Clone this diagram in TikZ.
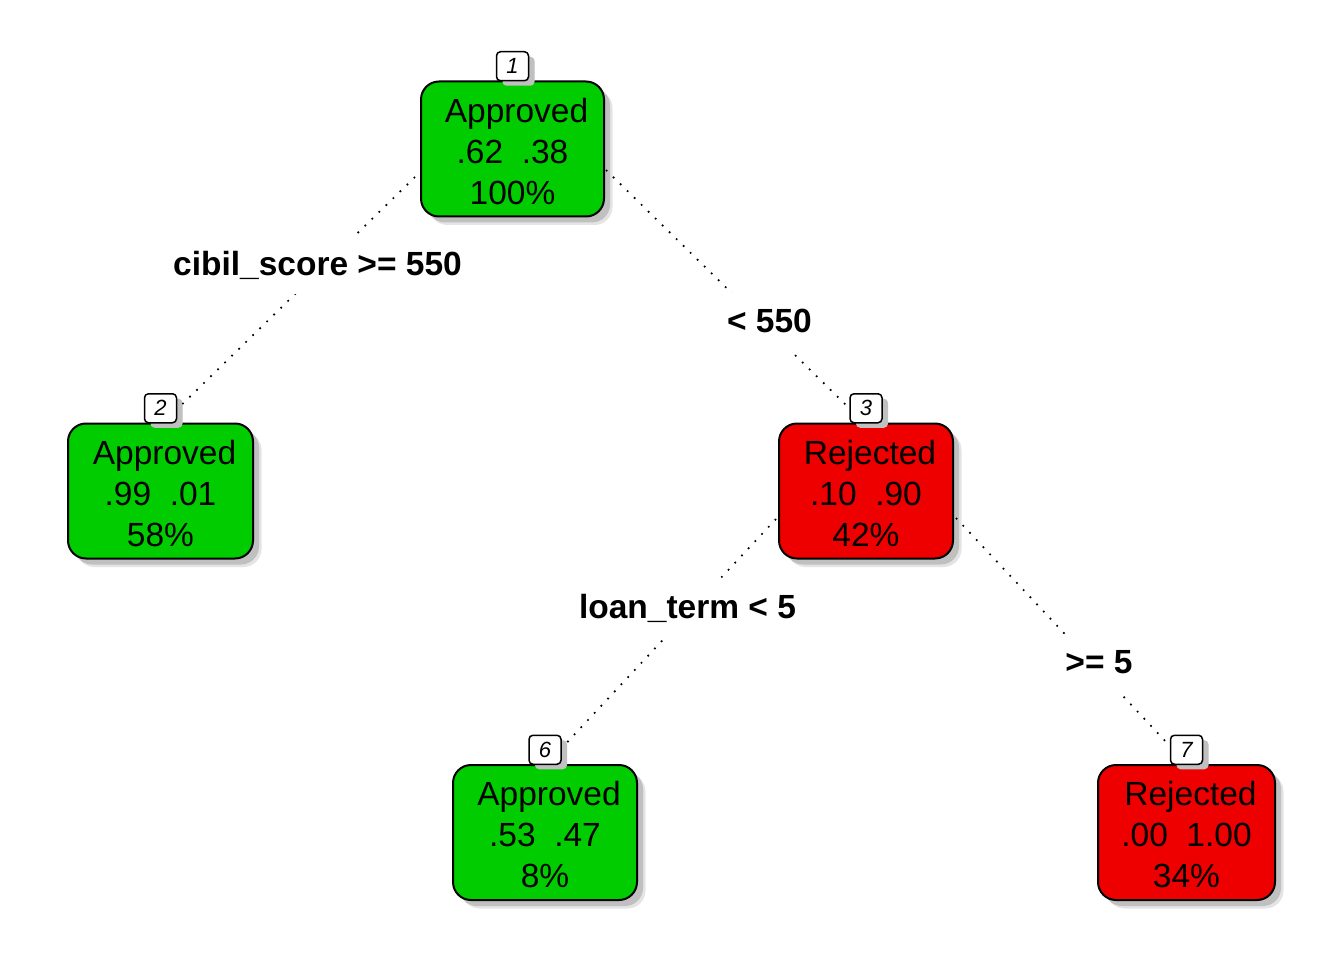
\documentclass[tikz,border=0pt]{standalone}
\usepackage{fontspec}
\setmainfont{Liberation Sans}
\usetikzlibrary{calc,shadows}
\definecolor{boxgreen}{RGB}{0,204,0}
\definecolor{boxred}{RGB}{238,0,0}
\definecolor{shadowgray}{RGB}{192,192,192}
\definecolor{shadowlight}{RGB}{228,228,228}
\newcommand{\firstline}[1]{\rule{0pt}{28.5pt}\hspace*{8pt}#1}
\begin{document}
\begin{tikzpicture}[x=1pt,y=-1pt,
  tbox/.style={draw=black, line width=2pt, rounded corners=18pt, minimum height=135pt,
    align=center, inner sep=0pt, font=\fontsize{33.5}{41}\selectfont,
    drop shadow={shadow xshift=8.5pt, shadow yshift=-8.5pt, fill=shadowlight, opacity=1},
    drop shadow={shadow xshift=6pt, shadow yshift=-6pt, fill=shadowgray, opacity=1}},
  nbox/.style={draw=black, line width=1.5pt, fill=white, rounded corners=4pt,
    minimum width=32pt, minimum height=29pt, inner sep=0pt, anchor=south,
    font=\fontsize{22}{22}\selectfont\itshape,
    drop shadow={shadow xshift=6pt, shadow yshift=-5pt, fill=shadowgray, opacity=1}},
  elabel/.style={fill=white, inner xsep=2pt, inner ysep=14pt, text height=25pt,
    text depth=5pt, anchor=base, font=\fontsize{33.5}{40}\selectfont\bfseries},
  dotline/.style={line width=1.7pt, dash pattern=on 1.7pt off 8.1pt}
]
\fill[white] (0,0) rectangle (1344,960);
\useasboundingbox (0,0) rectangle (1344,960);

% tree nodes
\node[tbox, fill=boxgreen, minimum width=183pt] (n1) at (512.5,149) {\firstline{Approved}\\.62\ \ .38\\100\%};
\node[tbox, fill=boxgreen, minimum width=185pt] (n2) at (160.5,491) {\firstline{Approved}\\.99\ \ .01\\58\%};
\node[tbox, fill=boxred,   minimum width=174pt] (n3) at (866,491)   {\firstline{Rejected}\\.10\ \ .90\\42\%};
\node[tbox, fill=boxgreen, minimum width=184pt] (n6) at (545,832.5) {\firstline{Approved}\\.53\ \ .47\\8\%};
\node[tbox, fill=boxred,   minimum width=177pt] (n7) at (1186.5,832.5) {\firstline{Rejected}\\.00\ \ 1.00\\34\%};

% node number boxes
\node[nbox] (l1) at ($(n1.north)+(0,1)$) {1};
\node[nbox] (l2) at ($(n2.north)+(0,1)$) {2};
\node[nbox] (l3) at ($(n3.north)+(0,1)$) {3};
\node[nbox] (l6) at ($(n6.north)+(0,1)$) {6};
\node[nbox] (l7) at ($(n7.north)+(0,1)$) {7};

% connectors
\draw[dotline] ($(n1.west)+(-5,28)$) -- ($(l2.east)+(5,-4)$);
\draw[dotline] ($(n1.east)+(1,21)$) -- ($(l3.west)+(-4,-4)$);
\draw[dotline] ($(n3.west)+(-2,28)$) -- ($(l6.east)+(4,-6)$);
\draw[dotline] ($(n3.east)+(2,27)$) -- ($(l7.west)+(-2,-6)$);

% split labels
\node[elabel] (e1) at (317.5,275) {cibil\_score >= 550};
\node[elabel] (e2) at (769.5,332) {< 550};
\node[elabel] (e3) at (687.5,618) {loan\_term < 5};
\node[elabel] (e4) at (1099,673) {>= 5};
\end{tikzpicture}
\end{document}
